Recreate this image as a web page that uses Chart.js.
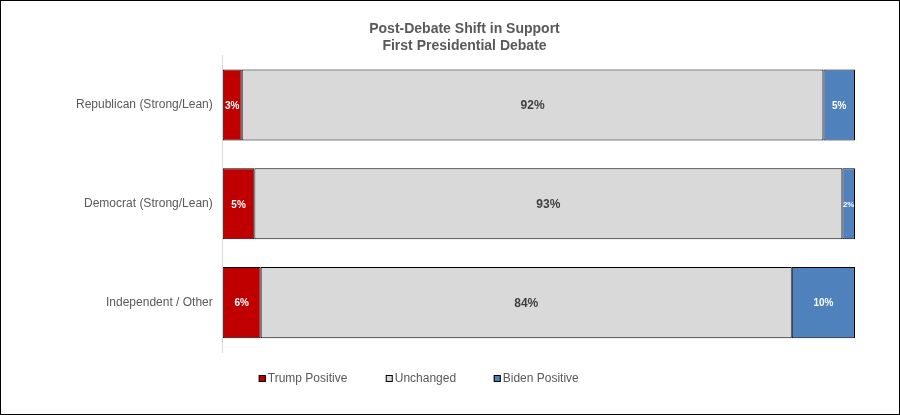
<!DOCTYPE html>
<html lang="en">
<head>
  <meta charset="UTF-8" />
  <title>Post-Debate Shift in Support</title>
  <script src="https://cdn.jsdelivr.net/npm/chart.js"></script>
  <style>
    body { margin: 0; font-family: "Liberation Sans", Arial, sans-serif; background: #fff; }
    .frame { width: 900px; height: 415px; box-sizing: border-box; border: 1px solid #000; }
  </style>
</head>
<body>
  <div class="frame">
    <canvas id="shiftChart" width="898" height="413"></canvas>
  </div>

  <script>
    // Data
    const groups = ['Republican (Strong/Lean)', 'Democrat (Strong/Lean)', 'Independent / Other'];
    const trumpPositive = [3, 5, 6];
    const unchanged = [92, 93, 84];
    const bidenPositive = [5, 2, 10];

    const seriesNames = ['Trump Positive', 'Unchanged', 'Biden Positive'];
    const fillColors = ['#C00000', '#D9D9D9', '#4F81BD'];
    const labelColors = ['#FFFFFF', '#404040', '#FFFFFF'];
    const labelSizes = [10, 12, 10];

    // Percent labels inside each segment
    const segmentLabels = {
      id: 'segmentLabels',
      afterDatasetsDraw(chart) {
        const ctx = chart.ctx;
        ctx.save();
        ctx.textAlign = 'center';
        ctx.textBaseline = 'middle';
        chart.data.datasets.forEach((ds, i) => {
          chart.getDatasetMeta(i).data.forEach((bar, j) => {
            const text = ds.data[j] + '%';
            const w = Math.abs(bar.x - bar.base);
            let size = labelSizes[i];
            ctx.font = `bold ${size}px "Liberation Sans", Arial, sans-serif`;
            while (ctx.measureText(text).width > w && size > 7) {
              size--;
              ctx.font = `bold ${size}px "Liberation Sans", Arial, sans-serif`;
            }
            ctx.fillStyle = labelColors[i];
            ctx.fillText(text, (bar.x + bar.base) / 2, bar.y + 1);
          });
        });
        ctx.restore();
      }
    };

    // Legend below the plot, Excel style
    const bottomLegend = {
      id: 'bottomLegend',
      afterDraw(chart) {
        const ctx = chart.ctx;
        const area = chart.chartArea;
        const y = area.bottom + 27;
        const starts = [area.left + 36, area.left + 163, area.left + 271];
        ctx.save();
        ctx.font = '12px "Liberation Sans", Arial, sans-serif';
        ctx.textBaseline = 'middle';
        seriesNames.forEach((name, i) => {
          const x = starts[i];
          ctx.fillStyle = fillColors[i];
          ctx.fillRect(x, y - 4, 7, 7);
          ctx.strokeStyle = '#000';
          ctx.lineWidth = 1;
          ctx.strokeRect(x + 0.5, y - 3.5, 6, 6);
          ctx.fillStyle = '#595959';
          ctx.fillText(name, x + 9, y);
        });
        ctx.restore();
      }
    };

    const ctx = document.getElementById('shiftChart').getContext('2d');
    new Chart(ctx, {
      type: 'bar',
      data: {
        labels: groups,
        datasets: [trumpPositive, unchanged, bidenPositive].map((values, i) => ({
          label: seriesNames[i],
          data: values,
          backgroundColor: fillColors[i],
          borderColor: '#000000',
          borderWidth: 1,
          borderSkipped: false,
          categoryPercentage: 0.72,
          barPercentage: 1
        }))
      },
      options: {
        indexAxis: 'y',
        responsive: false,
        animation: false,
        layout: { padding: { left: 73, right: 44, top: 0, bottom: 62 } },
        plugins: {
          legend: { display: false },
          tooltip: { enabled: false },
          title: {
            display: true,
            text: ['Post-Debate Shift in Support', 'First Presidential Debate'],
            color: '#595959',
            font: { family: '"Liberation Sans", Arial, sans-serif', size: 14, weight: 'bold' },
            lineHeight: 1.2,
            padding: { top: 20, bottom: 1 }
          }
        },
        scales: {
          x: {
            stacked: true,
            min: 0,
            max: 100,
            display: false
          },
          y: {
            stacked: true,
            grid: { display: false },
            border: { display: true, color: '#D9D9D9' },
            ticks: {
              color: '#595959',
              padding: 2,
              font: { family: '"Liberation Sans", Arial, sans-serif', size: 12 }
            }
          }
        }
      },
      plugins: [segmentLabels, bottomLegend]
    });
  </script>
</body>
</html>
